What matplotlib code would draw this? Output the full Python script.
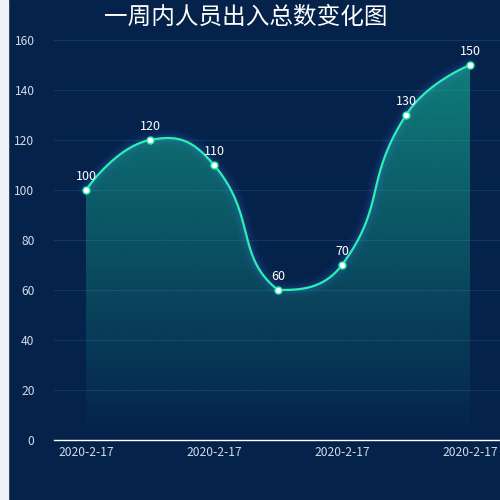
import numpy as np
import matplotlib.pyplot as plt
from matplotlib.patches import Rectangle, Polygon

plt.rcParams['font.family'] = ['Noto Sans CJK SC', 'DejaVu Sans']

# data
dates = ['2020-2-17'] * 7
counts = [100, 120, 110, 60, 70, 130, 150]
title = '一周内人员出入总数变化图'

bg = '#05224b'
line_color = '#2af0b0'
text_color = '#d2dae8'

fig = plt.figure(figsize=(5, 5), dpi=100)
fig.patch.set_facecolor(bg)
fig.add_artist(Rectangle((0, 0), 8 / 500, 1, transform=fig.transFigure,
                         color='#f0f2f8', zorder=0))

ax = fig.add_axes([0.108, 0.12, 0.896, 0.8])
ax.set_facecolor('none')
x = np.arange(len(counts))
ax.set_xlim(-0.5, len(counts) - 0.5)
ax.set_ylim(0, 160)
ax.set_autoscale_on(False)


# echarts style smooth curve (bezier, smooth=0.5, constrained to point bbox)
def smooth_curve(xs, ys, smooth=0.5):
    pts = ax.transData.transform(np.column_stack([xs, ys]))
    lo, hi = pts.min(axis=0), pts.max(axis=0)
    t = np.linspace(0, 1, 40)[1:, None]
    out = [pts[:1]]
    cp0 = pts[0].copy()
    for i in range(1, len(pts)):
        p = pts[i]
        v = None
        if i == len(pts) - 1:
            cp1 = p.copy()
        else:
            prev, nxt = pts[i - 1], pts[i + 1]
            v = nxt - prev
            lp = np.hypot(*(p - prev))
            ln = np.hypot(*(nxt - p))
            ratio = ln / (ln + lp)
            cp1 = p - v * smooth * (1 - ratio)
        cp0 = np.clip(cp0, lo, hi)
        cp1 = np.clip(cp1, lo, hi)
        p0 = pts[i - 1]
        seg = ((1 - t) ** 3 * p0 + 3 * (1 - t) ** 2 * t * cp0
               + 3 * (1 - t) * t ** 2 * cp1 + t ** 3 * p)
        out.append(seg)
        if v is not None:
            cp0 = p + v * smooth * ratio
    return ax.transData.inverted().transform(np.vstack(out))


curve = smooth_curve(x, counts)

# gradient area
grad = np.zeros((256, 1, 4))
grad[..., 0] = 25 / 255
grad[..., 1] = 200 / 255
grad[..., 2] = 160 / 255
grad[:, 0, 3] = np.linspace(0, 0.55, 256)
im = ax.imshow(grad, extent=[-0.5, len(counts) - 0.5, 0, max(counts)],
               origin='lower', aspect='auto', zorder=2)
poly = Polygon(np.vstack([curve, [[x[-1], 0], [x[0], 0]]]), closed=True,
               facecolor='none', edgecolor='none')
ax.add_patch(poly)
im.set_clip_path(poly)

# glow
for lw, a in [(12, 0.04), (8, 0.06), (5, 0.08)]:
    ax.plot(curve[:, 0], curve[:, 1], color='#4f8cff', lw=lw, alpha=a,
            solid_capstyle='round', zorder=3)

ax.plot(curve[:, 0], curve[:, 1], color=line_color, lw=1.6, zorder=4)
ax.plot(x, counts, 'o', ms=5, mfc='white', mec=line_color, mew=1, zorder=5)

for i, v in enumerate(counts):
    ax.annotate(str(v), (i, v), xytext=(0, 5), textcoords='offset points',
                ha='center', va='bottom', color='white', fontsize=9, zorder=6)

ax.set_yticks(range(0, 161, 20))
ax.set_xticks(x[::2])
ax.set_xticklabels(dates[::2])
ax.tick_params(length=0, colors=text_color, labelsize=8.7)
ax.tick_params(axis='y', pad=14)
ax.tick_params(axis='x', pad=4)
ax.grid(axis='y', color='#0e3962', lw=0.75)
ax.set_axisbelow(True)
for s in ['top', 'right', 'left']:
    ax.spines[s].set_visible(False)
ax.spines['bottom'].set_color('white')
ax.spines['bottom'].set_linewidth(1)
ax.spines['bottom'].set_zorder(7)

fig.text(0.492, 1 - 17 / 500, title, ha='center', va='center',
         fontsize=17, color='white')

fig.savefig('out.png', dpi=100, facecolor=bg)
